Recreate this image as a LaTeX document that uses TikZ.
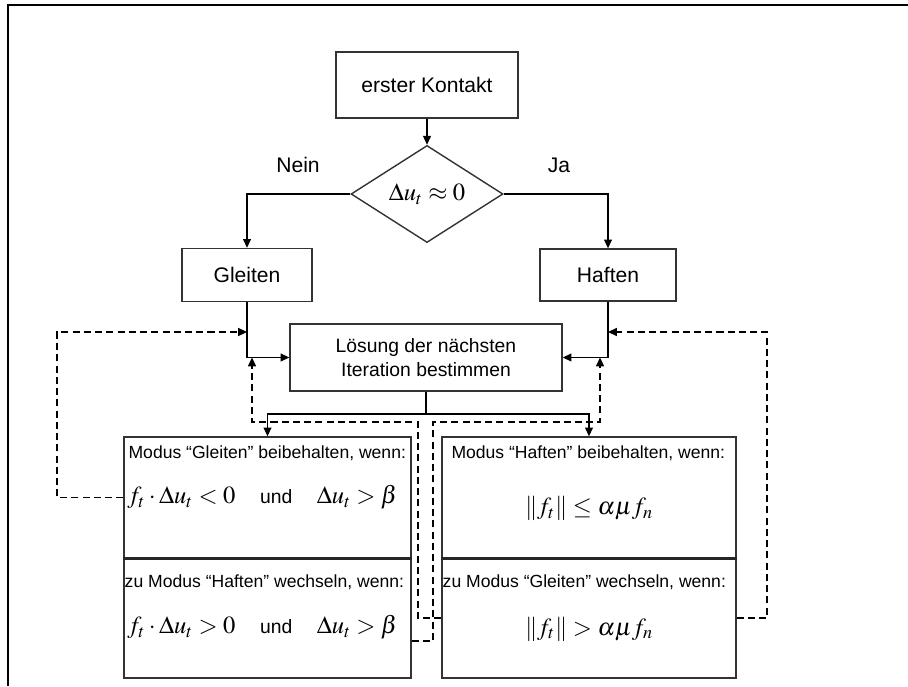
\documentclass[tikz,border=0pt]{standalone}
\usepackage{mathptmx}
\usepackage[no-math]{fontspec}
\setmainfont{Liberation Sans}
\usetikzlibrary{shapes.geometric,arrows.meta,positioning}

\begin{document}
\begin{tikzpicture}[x=0.02cm, y=-0.02cm,
    box/.style={draw=black!80, line width=0.8pt, inner sep=0pt, align=center},
    dec/.style={diamond, draw=black!80, line width=0.8pt, inner sep=0pt,
      minimum width=3.04cm, minimum height=1.84cm},
    conn/.style={line width=0.6pt, -{Triangle[length=5pt,width=4.5pt]}},
    fb/.style={line width=1pt, dash pattern=on 4pt off 2.4pt,
      -{Triangle[length=5pt,width=4.5pt]}},
    head/.style={inner sep=0pt, font=\fontsize{10}{12}\selectfont},
    cond/.style={inner sep=0pt, font=\fontsize{14}{17}\selectfont}]
    \def\und{\quad{\fontsize{11}{13}\selectfont und}\quad}
    \useasboundingbox (0,0) rectangle (908,686);
    \draw[line width=1pt] (8,686) |- (908,5);

    % oberer Teil
    \node[box, minimum width=3.64cm, minimum height=1.32cm, font=\fontsize{12}{14}\selectfont]
      (kontakt) at (427,85) {erster Kontakt};
    \node[dec] (abfrage) at (427,194) {\fontsize{14}{17}\selectfont$\Delta u_t\approx 0$};
    \node[font=\fontsize{12}{14}\selectfont] (nein) at (298,165) {Nein};
    \node[font=\fontsize{12}{14}\selectfont] (ja) at (559,165) {Ja};
    \node[box, minimum width=2.6cm, minimum height=1.06cm, font=\fontsize{12}{14}\selectfont]
      (gleiten) at (247,275) {Gleiten};
    \node[box, minimum width=2.72cm, minimum height=1.04cm, font=\fontsize{12}{14}\selectfont]
      (haften) at (608,275) {Haften};
    \node[box, minimum width=5.44cm, minimum height=1.34cm, font=\fontsize{11}{14}\selectfont]
      (loesung) at (426,357.5) {L\"osung der n\"achsten\\Iteration bestimmen};

    % Bedingungen
    \node[box, minimum width=5.74cm, minimum height=2.42cm] (gbeib) at (267.5,497.5) {};
    \node[box, minimum width=5.74cm, minimum height=2.4cm] (hwech) at (267.5,618) {};
    \node[box, minimum width=5.88cm, minimum height=2.42cm] (hbeib) at (589,497.5) {};
    \node[box, minimum width=5.88cm, minimum height=2.4cm] (gwech) at (589,618) {};
    \draw[line width=1.4pt, black!85] (gbeib.south west) -- (gbeib.south east);
    \draw[line width=1.4pt, black!85] (hbeib.south west) -- (hbeib.south east);

    \node[head, below right=4.9pt and 2.8pt of gbeib.north west] (tgbeib)
      {Modus \textquotedblleft Gleiten\textquotedblright\ beibehalten, wenn:};
    \node[head, below right=9.6pt and 0.6pt of hwech.north west] (thwech)
      {zu Modus \textquotedblleft Haften\textquotedblright\ wechseln, wenn:};
    \node[head, below right=4.9pt and 5.6pt of hbeib.north west] (thbeib)
      {Modus \textquotedblleft Haften\textquotedblright\ beibehalten, wenn:};
    \node[head, below right=9.6pt and 0.6pt of gwech.north west] (tgwech)
      {zu Modus \textquotedblleft Gleiten\textquotedblright\ wechseln, wenn:};

    \node[cond] (cgbeib) at ([xshift=-0.1cm]gbeib.center)
      {$f_t\cdot\Delta u_t<0$\und$\Delta u_t>\beta$};
    \node[cond] (chwech) at ([xshift=-0.1cm, yshift=-0.18cm]hwech.center)
      {$f_t\cdot\Delta u_t>0$\und$\Delta u_t>\beta$};
    \node[cond] (chbeib) at ([yshift=-0.22cm]hbeib.center)
      {$\|f_t\|\le\alpha\mu f_n$};
    \node[cond] (cgwech) at ([yshift=-0.22cm]gwech.center)
      {$\|f_t\|>\alpha\mu f_n$};

    % Verbindungen
    \coordinate (split) at (427,414);
    \draw[conn] (kontakt) -- (abfrage);
    \draw[conn] (abfrage.west) -| (gleiten);
    \draw[conn] (abfrage.east) -| (haften);
    \draw[conn] (gleiten) |- (loesung);
    \draw[conn] (haften) |- (loesung);
    \draw[line width=0.6pt] (loesung.south) -- (loesung.south |- split);
    \draw[conn] (loesung.south |- split) -| (gbeib.north);
    \draw[conn] (loesung.south |- split) -| (hbeib.north);

    % Rueckfuehrungen
    \coordinate (fA) at (57,332);
    \coordinate (fB) at (433,422);
    \coordinate (fBend) at (600,357.5);
    \coordinate (fC) at (418,422);
    \coordinate (fCend) at (252,357.5);
    \coordinate (fD) at (767,332);
    \draw[fb] (gbeib.west) -| (fA) -- (fA -| gleiten.south);
    \draw[fb] ([yshift=-0.46cm]hwech.east) -| (fB) -| (fBend);
    \draw[fb] (gwech.west) -| (fC) -| (fCend);
    \draw[fb] (gwech.east) -| (fD) -- (fD -| haften.south);
\end{tikzpicture}
\end{document}
